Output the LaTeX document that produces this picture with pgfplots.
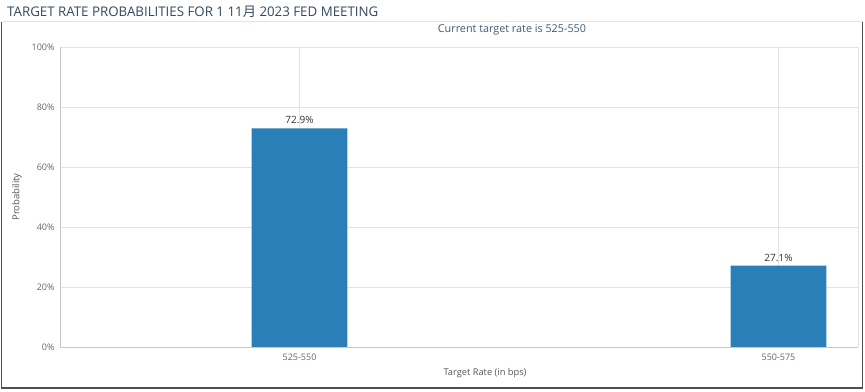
\documentclass[border=0pt]{standalone}
\usepackage{fontspec}
\setmainfont{Open Sans}
\newfontfamily\cjk{Noto Sans CJK SC}
\usepackage{pgfplots}
\pgfplotsset{compat=1.18}
\definecolor{barblue}{HTML}{2A7FB8}
\definecolor{titlecol}{HTML}{34495E}
\definecolor{subcol}{HTML}{3D5A75}
\definecolor{tickcol}{HTML}{666666}
\definecolor{labcol}{HTML}{555555}
\definecolor{gridcol}{HTML}{E3E3E3}
\definecolor{axiscol}{HTML}{C8C8C8}
\definecolor{framecol}{HTML}{505050}
\begin{document}
\begin{tikzpicture}
\path[use as bounding box] (0pt,0pt) rectangle (865pt,391pt);
% frame
\draw[gridcol, line width=1pt] (1.5pt,369pt) -- (862.5pt,369pt);
\draw[framecol, line width=1.6pt] (1.5pt,369pt) -- (1.5pt,3pt) -- (862.5pt,3pt) -- (862.5pt,369pt);
% title
\node[anchor=west, text=titlecol, font=\fontsize{13.3}{15}\selectfont, inner sep=0pt] at (7pt,379pt) {TARGET RATE PROBABILITIES FOR 1 11{\cjk 月} 2023 FED MEETING};
\node[text=subcol, font=\fontsize{10.8}{12}\selectfont, inner sep=0pt] at (512pt,361pt) {Current target rate is 525-550};
\begin{axis}[
  at={(60pt,44pt)}, anchor=south west, scale only axis,
  width=798pt, height=300pt,
  xmin=-0.5, xmax=1.166, ymin=0, ymax=100,
  ytick={0,20,40,60,80,100},
  yticklabel={\pgfmathprintnumber{\tick}\%},
  xtick={0,1}, xticklabels={525-550,550-575},
  /pgf/number format/assume math mode=true,
  xmajorgrids, ymajorgrids,
  grid style={color=gridcol, line width=0.9pt},
  axis line style={color=axiscol, line width=0.9pt},
  axis x line*=bottom, axis y line*=left,
  major tick length=0pt,
  tick label style={text=tickcol, font=\fontsize{9}{10}\selectfont},
  yticklabel style={xshift=-2pt},
  xticklabel style={yshift=-3pt},
  nodes near coords={\pgfmathprintnumber[fixed,precision=1,fixed zerofill]{\pgfplotspointmeta}\%},
  nodes near coords style={text=black!80, font=\fontsize{10}{12}\selectfont, yshift=1pt},
  clip=false,
]
\addplot[ybar, fill=barblue, draw=none, bar width=0.2] coordinates {(0,72.9) (1,27.1)};
\end{axis}
\draw[gridcol, line width=0.9pt] (858pt,44pt) -- (858pt,344pt);
\node[rotate=90, text=labcol, font=\fontsize{9.5}{11}\selectfont] at (17pt,194pt) {Probability};
\node[text=labcol, font=\fontsize{9.3}{11}\selectfont] at (485pt,18pt) {Target Rate (in bps)};
\end{tikzpicture}
\end{document}
